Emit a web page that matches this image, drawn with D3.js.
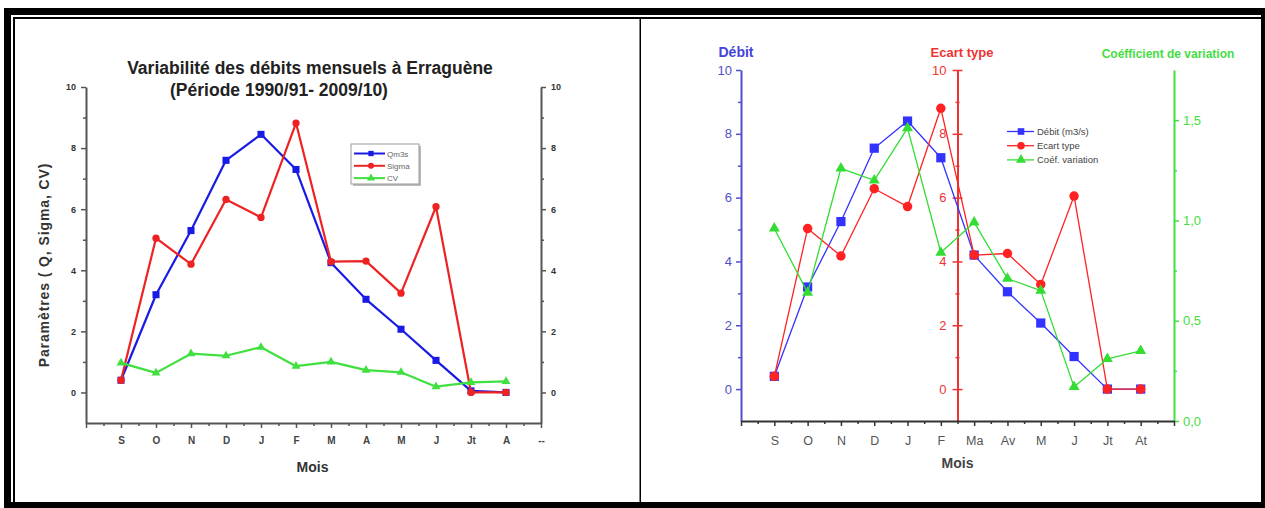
<!DOCTYPE html>
<html>
<head>
<meta charset="utf-8">
<script src="https://cdn.jsdelivr.net/npm/d3@7"></script>
<style>
  html, body { margin: 0; padding: 0; background: #fff; }
  svg { display: block; font-family: "Liberation Sans", Arial, sans-serif; }
</style>
</head>
<body>
<svg id="fig" width="1265" height="508"></svg>
<script>
// ---- Data: hydrological year, September to August ----
const monthsLeft  = ["S", "O", "N", "D", "J", "F", "M", "A", "M", "J", "Jt", "A"];
const monthsRight = ["S", "O", "N", "D", "J", "F", "Ma", "Av", "M", "J", "Jt", "At"];
const leftEndLabel = "--";

// Left panel: mean flow (m3/s), standard deviation, coefficient of variation
const qm3s   = [0.4, 3.2, 5.3, 7.6, 8.45, 7.3, 4.25, 3.05, 2.07, 1.05, 0.05, 0.0];
const sigma  = [0.4, 5.05, 4.2, 6.32, 5.73, 8.82, 4.28, 4.3, 3.25, 6.08, 0.0, 0.0];
const cvLeft = [0.97, 0.64, 1.27, 1.2, 1.48, 0.86, 1.0, 0.73, 0.66, 0.19, 0.33, 0.36];

// Right panel: same parameters, each on its own axis
const debit         = [0.4, 3.2, 5.25, 7.55, 8.4, 7.25, 4.2, 3.05, 2.07, 1.02, 0.0, 0.0];
const ecartType     = [0.4, 5.03, 4.17, 6.28, 5.72, 8.8, 4.2, 4.25, 3.28, 6.05, 0.0, 0.0];
const coefVariation = [0.96, 0.64, 1.26, 1.2, 1.46, 0.84, 0.99, 0.71, 0.65, 0.17, 0.31, 0.35];

// Tick values and labels
const yMajorTicks  = [0, 2, 4, 6, 8, 10];
const yMinorTicks  = [1, 3, 5, 7, 9];
const cvMajorTicks = [0, 0.5, 1.0, 1.5];
const cvTickLabels = ["0,0", "0,5", "1,0", "1,5"];
const cvMinorTicks = [0.25, 0.75, 1.25];

const svg = d3.select("#fig");

// ---- Page frame (double border of a two-cell table) ----
const frame = svg.append("g");
frame.append("rect").attr("x", 4).attr("y", 8).attr("width", 7).attr("height", 500).attr("fill", "#000");
frame.append("rect").attr("x", 4).attr("y", 8).attr("width", 1261).attr("height", 7).attr("fill", "#000");
frame.append("rect").attr("x", 1261).attr("y", 8).attr("width", 4).attr("height", 500).attr("fill", "#000");
frame.append("rect").attr("x", 4).attr("y", 502).attr("width", 1261).attr("height", 6).attr("fill", "#000");
frame.append("rect").attr("x", 13).attr("y", 17).attr("width", 1248).attr("height", 2).attr("fill", "#000");
frame.append("rect").attr("x", 13).attr("y", 17).attr("width", 2).attr("height", 485).attr("fill", "#000");
frame.append("rect").attr("x", 639.5).attr("y", 17).attr("width", 1.5).attr("height", 485).attr("fill", "#000");

// ---- Helpers ----
function styleAxis(g, color, width, fontSize, fontWeight, textColor) {
  g.selectAll(".domain").attr("stroke", color).attr("stroke-width", width);
  g.selectAll(".tick line").attr("stroke", color).attr("stroke-width", Math.max(1, width - 0.5));
  g.selectAll(".tick text")
    .attr("fill", textColor || color)
    .style("font-size", fontSize + "px")
    .style("font-weight", fontWeight)
    .style("font-family", '"Liberation Sans", Arial, sans-serif');
}

function drawSeries(g, x, y, values, color, symbolType, symbolSize, lineWidth) {
  const line = d3.line().x((d, i) => x(i + 1)).y(d => y(d));
  g.append("path")
    .datum(values)
    .attr("d", line)
    .attr("fill", "none")
    .attr("stroke", color)
    .attr("stroke-width", lineWidth)
    .attr("stroke-linejoin", "round");
  g.selectAll(null)
    .data(values)
    .join("path")
    .attr("transform", (d, i) => `translate(${x(i + 1)},${y(d)})`)
    .attr("d", d3.symbol().type(symbolType).size(symbolSize))
    .attr("fill", color);
}

// ================= Left panel =================
const L = svg.append("g");
const xL = d3.scaleLinear().domain([0, 13]).range([86, 541]);
const yL = d3.scaleLinear().domain([-1, 10]).range([423, 87]);
const axisGrey = "#555";

// Title
L.append("text").attr("x", 310).attr("y", 74).attr("text-anchor", "middle")
  .style("font-size", "17.5px").style("font-weight", "bold").attr("fill", "#222")
  .text("Variabilité des débits mensuels à Erraguène");
L.append("text").attr("x", 279).attr("y", 96).attr("text-anchor", "middle")
  .style("font-size", "17.5px").style("font-weight", "bold").attr("fill", "#222")
  .text("(Période 1990/91- 2009/10)");

// Left and right y axes with minor ticks
const yLeftMajor = L.append("g").attr("transform", `translate(${xL(0)},0)`)
  .call(d3.axisLeft(yL).tickValues(yMajorTicks).tickSize(5).tickSizeOuter(0).tickPadding(5));
styleAxis(yLeftMajor, axisGrey, 2, 9, "bold", "#333");
L.append("g").attr("transform", `translate(${xL(0)},0)`)
  .call(d3.axisLeft(yL).tickValues(yMinorTicks).tickSize(3).tickFormat(""))
  .call(g => { g.select(".domain").remove(); g.selectAll(".tick line").attr("stroke", axisGrey).attr("stroke-width", 1.5); });

const yRightMajor = L.append("g").attr("transform", `translate(${xL(13)},0)`)
  .call(d3.axisRight(yL).tickValues(yMajorTicks).tickSize(5).tickSizeOuter(0).tickPadding(5));
styleAxis(yRightMajor, axisGrey, 2, 9, "bold", "#333");
L.append("g").attr("transform", `translate(${xL(13)},0)`)
  .call(d3.axisRight(yL).tickValues(yMinorTicks).tickSize(3).tickFormat(""))
  .call(g => { g.select(".domain").remove(); g.selectAll(".tick line").attr("stroke", axisGrey).attr("stroke-width", 1.5); });

// x axis: major ticks on months, minor ticks halfway
const leftTickLabels = [""].concat(monthsLeft, [leftEndLabel]);
const xLeftMajor = L.append("g").attr("transform", `translate(0,${yL(-1)})`)
  .call(d3.axisBottom(xL).tickValues(d3.range(0, 14)).tickSize(5).tickSizeOuter(0).tickPadding(9)
    .tickFormat(i => leftTickLabels[i]));
styleAxis(xLeftMajor, axisGrey, 2, 10, "bold", "#444");
L.append("g").attr("transform", `translate(0,${yL(-1)})`)
  .call(d3.axisBottom(xL).tickValues(d3.range(0.5, 13, 1)).tickSize(3).tickFormat(""))
  .call(g => { g.select(".domain").remove(); g.selectAll(".tick line").attr("stroke", axisGrey).attr("stroke-width", 1.5); });

// Axis titles
L.append("text").attr("x", xL(6.5) - 1).attr("y", 472).attr("text-anchor", "middle")
  .style("font-size", "14px").style("font-weight", "bold").attr("fill", "#333").text("Mois");
L.append("text").attr("transform", "translate(49,265) rotate(-90)").attr("text-anchor", "middle")
  .style("font-size", "14px").style("font-weight", "bold").style("letter-spacing", "0.9px")
  .attr("fill", "#333").text("Paramètres ( Q, Sigma, CV)");

// Series
const cBlueL = "#1a1ae6", cRedL = "#ee2222", cGreenL = "#3fe03f";
drawSeries(L, xL, yL, qm3s, cBlueL, d3.symbolSquare, 50, 2.2);
drawSeries(L, xL, yL, sigma, cRedL, d3.symbolCircle, 42, 2.2);
drawSeries(L, xL, yL, cvLeft, cGreenL, d3.symbolTriangle, 34, 2.2);

// Legend
const legL = L.append("g");
legL.append("rect").attr("x", 353).attr("y", 146).attr("width", 68).attr("height", 40)
  .attr("fill", "#bbb");
legL.append("rect").attr("x", 351).attr("y", 144).attr("width", 68).attr("height", 40)
  .attr("fill", "#fff").attr("stroke", "#999").attr("stroke-width", 1);
const legLItems = [
  { name: "Qm3s", color: cBlueL, sym: d3.symbolSquare },
  { name: "Sigma", color: cRedL, sym: d3.symbolCircle },
  { name: "CV", color: cGreenL, sym: d3.symbolTriangle }
];
legLItems.forEach((it, k) => {
  const yy = 153.5 + k * 12.3;
  legL.append("line").attr("x1", 354).attr("x2", 385).attr("y1", yy).attr("y2", yy)
    .attr("stroke", it.color).attr("stroke-width", 2);
  legL.append("path").attr("transform", `translate(371,${yy})`)
    .attr("d", d3.symbol().type(it.sym).size(28)).attr("fill", it.color);
  legL.append("text").attr("x", 387).attr("y", yy + 3).style("font-size", "8px")
    .attr("fill", "#666").text(it.name);
});

// ================= Right panel =================
const R = svg.append("g");
const xR = d3.scaleLinear().domain([0, 13]).range([741, 1174]);
const yR = d3.scaleLinear().domain([-1, 10]).range([421, 70]);
const yCV = d3.scaleLinear().domain([0, 1.75]).range([421, 70]);
const cAxisBlue = "#5050cc", cAxisRed = "#ee3333", cAxisGreen = "#44dd44";

// Débit axis (left)
const yDeb = R.append("g").attr("transform", `translate(${xR(0)},0)`)
  .call(d3.axisLeft(yR).tickValues(yMajorTicks).tickSize(5).tickSizeOuter(0).tickPadding(4));
styleAxis(yDeb, cAxisBlue, 2, 13, "normal");
R.append("g").attr("transform", `translate(${xR(0)},0)`)
  .call(d3.axisLeft(yR).tickValues(yMinorTicks).tickSize(3).tickFormat(""))
  .call(g => { g.select(".domain").remove(); g.selectAll(".tick line").attr("stroke", cAxisBlue).attr("stroke-width", 1.5); });

// Écart type axis (middle), ticks crossing the line
const xRedAxis = xR(6.5);
const yEc = R.append("g").attr("transform", `translate(${xRedAxis},0)`)
  .call(d3.axisLeft(yR).tickValues(yMajorTicks).tickSize(5).tickSizeOuter(0).tickPadding(6));
styleAxis(yEc, cAxisRed, 2, 13, "normal");
yEc.selectAll(".tick line").attr("x1", 5).attr("x2", -5);
R.append("g").attr("transform", `translate(${xRedAxis},0)`)
  .call(d3.axisLeft(yR).tickValues(yMinorTicks).tickSize(2).tickFormat(""))
  .call(g => { g.select(".domain").remove(); g.selectAll(".tick line").attr("x1", 2).attr("stroke", cAxisRed).attr("stroke-width", 1.5); });

// Coefficient of variation axis (right)
const yCv = R.append("g").attr("transform", `translate(${xR(13)},0)`)
  .call(d3.axisRight(yCV).tickValues(cvMajorTicks).tickSize(5).tickSizeOuter(0).tickPadding(4)
    .tickFormat((d, i) => cvTickLabels[i]));
styleAxis(yCv, cAxisGreen, 2, 13, "normal");
R.append("g").attr("transform", `translate(${xR(13)},0)`)
  .call(d3.axisRight(yCV).tickValues(cvMinorTicks).tickSize(3).tickFormat(""))
  .call(g => { g.select(".domain").remove(); g.selectAll(".tick line").attr("stroke", cAxisGreen).attr("stroke-width", 1.5); });

// x axis
const rightTickLabels = [""].concat(monthsRight, [""]);
const xRightMajor = R.append("g").attr("transform", `translate(0,${yR(-1)})`)
  .call(d3.axisBottom(xR).tickValues(d3.range(0, 14)).tickSize(5).tickSizeOuter(0).tickPadding(10)
    .tickFormat(i => rightTickLabels[i]));
styleAxis(xRightMajor, "#333", 2, 12.5, "normal", "#555");
R.append("g").attr("transform", `translate(0,${yR(-1)})`)
  .call(d3.axisBottom(xR).tickValues(d3.range(0.5, 13, 1)).tickSize(3).tickFormat(""))
  .call(g => { g.select(".domain").remove(); g.selectAll(".tick line").attr("stroke", "#333").attr("stroke-width", 1.5); });

// Axis titles
R.append("text").attr("x", 736).attr("y", 57).attr("text-anchor", "middle")
  .style("font-size", "14px").style("font-weight", "bold").attr("fill", "#4444dd").text("Débit");
R.append("text").attr("x", 962).attr("y", 57).attr("text-anchor", "middle")
  .style("font-size", "13px").style("font-weight", "bold").attr("fill", "#ee3333").text("Ecart type");
R.append("text").attr("x", 1168).attr("y", 58).attr("text-anchor", "middle")
  .style("font-size", "12px").style("font-weight", "bold").attr("fill", "#44dd44").text("Coéfficient de variation");
R.append("text").attr("x", xRedAxis).attr("y", 468).attr("text-anchor", "middle")
  .style("font-size", "14px").style("font-weight", "bold").attr("fill", "#444").text("Mois");

// Series
const cBlueR = "#3333ff", cRedR = "#ff2222", cGreenR = "#33dd33";
drawSeries(R, xR, yR, debit, cBlueR, d3.symbolSquare, 85, 1.3);
drawSeries(R, xR, yR, ecartType, cRedR, d3.symbolCircle, 70, 1.3);
drawSeries(R, xR, yCV, coefVariation, cGreenR, d3.symbolTriangle, 52, 1.3);

// Legend
const legR = R.append("g");
const legRItems = [
  { name: "Débit (m3/s)", color: cBlueR, sym: d3.symbolSquare },
  { name: "Ecart type", color: cRedR, sym: d3.symbolCircle },
  { name: "Coéf. variation", color: cGreenR, sym: d3.symbolTriangle }
];
legRItems.forEach((it, k) => {
  const yy = 131.5 + k * 14.2;
  legR.append("line").attr("x1", 1007).attr("x2", 1034).attr("y1", yy).attr("y2", yy)
    .attr("stroke", it.color).attr("stroke-width", 1.3);
  legR.append("path").attr("transform", `translate(1021,${yy})`)
    .attr("d", d3.symbol().type(it.sym).size(44)).attr("fill", it.color);
  legR.append("text").attr("x", 1037).attr("y", yy + 3.5).style("font-size", "9.5px")
    .attr("fill", "#444").text(it.name);
});
</script>
</body>
</html>
